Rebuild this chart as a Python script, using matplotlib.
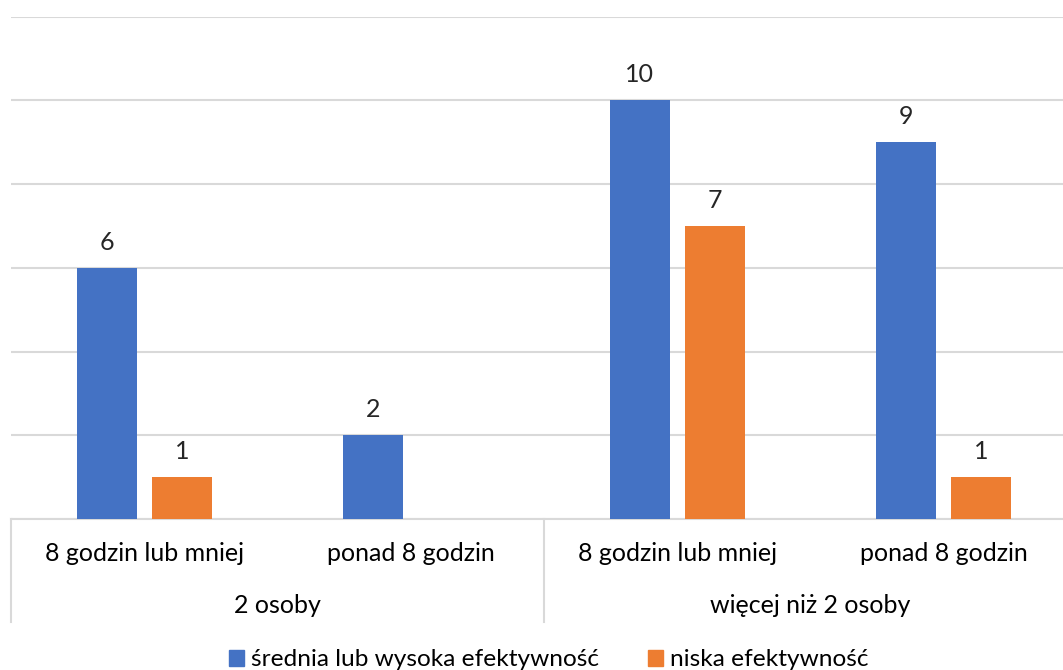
import matplotlib
matplotlib.use("Agg")
import matplotlib.pyplot as plt
import numpy as np

# Data
groups = ["2 osoby", "więcej niż 2 osoby"]
categories = ["8 godzin lub mniej", "ponad 8 godzin", "8 godzin lub mniej", "ponad 8 godzin"]
series_names = ["średnia lub wysoka efektywność", "niska efektywność"]
high_eff = [6, 2, 10, 9]
low_eff = [1, None, 7, 1]

colors = ["#4472C4", "#ED7D31"]
text_color = "#262626"
plt.rcParams["font.family"] = ["Lato", "DejaVu Sans"]
FS = 18

W, H = 1063, 670
fig = plt.figure(figsize=(W / 100, H / 100), dpi=100)
ax = fig.add_axes([11 / W, 151 / H, 1066 / W, 502.5 / H])

x = np.arange(len(categories))
bw = 0.225
off = 0.141

for vals, sign, col in [(high_eff, -1, colors[0]), (low_eff, 1, colors[1])]:
    for xi, v in zip(x, vals):
        if v is None:
            continue
        ax.bar(xi + sign * off, v, width=bw, color=col, zorder=3)
        ax.annotate(str(v), (xi + sign * off, v), xytext=(0, 18.5), textcoords="offset points",
                    ha="center", va="center", fontsize=FS, color=text_color)

ax.set_xlim(-0.5, 3.5)
ax.set_ylim(0, 12)
ax.set_yticks(np.arange(0, 13, 2))
ax.yaxis.grid(True, color="#D9D9D9", linewidth=1.5, zorder=0)
ax.tick_params(left=False, labelleft=False, bottom=False, labelbottom=False)
for s in ["top", "right", "left"]:
    ax.spines[s].set_visible(False)
ax.spines["bottom"].set_color("#D9D9D9")
ax.spines["bottom"].set_linewidth(1.5)

trans = ax.get_xaxis_transform()
for xi, lab in zip(x, categories):
    ax.text(xi, -0.068, lab, transform=trans, ha="center", va="center", fontsize=FS, color="black")
for gi, g in enumerate(groups):
    ax.text(gi * 2 + 0.5, -0.173, g, transform=trans, ha="center", va="center", fontsize=FS, color="black")
for xs in [-0.5, 1.5, 3.5]:
    ax.plot([xs, xs], [0, -0.205], transform=trans, color="#D9D9D9", linewidth=1.5, clip_on=False)

handles = [plt.Rectangle((0, 0), 1, 1, color=c) for c in colors]
fig.legend(handles, series_names, loc="center", bbox_to_anchor=(549 / W, 1 - 660 / H),
           ncol=2, frameon=False, fontsize=17.6, handlelength=0.6, handleheight=0.6,
           handletextpad=0.3, columnspacing=2.0, borderpad=0)

fig.savefig("out.png", dpi=100)
